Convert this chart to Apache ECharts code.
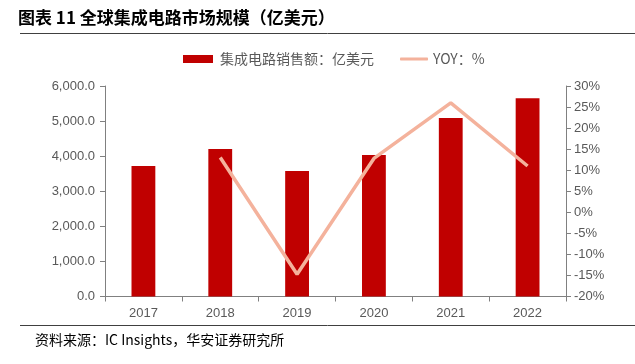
<!DOCTYPE html>
<html>
<head>
<meta charset="utf-8">
<script src="https://cdn.jsdelivr.net/npm/echarts@6/dist/echarts.min.js"></script>
<style>
  html, body { margin: 0; padding: 0; background: #fff; }
  #chart { width: 635px; height: 364px; }
</style>
</head>
<body>
<div id="chart"></div>
<script>
var years = ['2017', '2018', '2019', '2020', '2021', '2022'];
var sales = [3720, 4204, 3577, 4033, 5088, 5649];
var yoy = [null, 13.0, -14.7, 12.8, 26.0, 11.0];

var fontCn = '"Noto Sans CJK SC", sans-serif';
var fontEn = '"Liberation Sans", Arial, sans-serif';
var grayText = '#595959';
var axisGray = '#808080';
var lineColor = '#F4B29C';

var chart = echarts.init(document.getElementById('chart'));
chart.setOption({
  animation: false,
  textStyle: { fontFamily: fontEn },
  graphic: [
    {
      type: 'text', left: 18, top: 9,
      style: { text: '图表 11 全球集成电路市场规模（亿美元）', font: 'bold 17px ' + fontCn, fill: '#000' }
    },
    {
      type: 'line', shape: { x1: 20, y1: 33.5, x2: 635, y2: 33.5 },
      style: { stroke: '#404040', lineWidth: 1 }
    },
    {
      type: 'line', shape: { x1: 20, y1: 325.5, x2: 635, y2: 325.5 },
      style: { stroke: '#404040', lineWidth: 1 }
    },
    {
      type: 'text', left: 35, top: 333,
      style: { text: '资料来源：IC Insights，华安证券研究所', font: '14px ' + fontCn, fill: '#000' }
    }
  ],
  legend: [
    {
      top: 47, left: 178,
      itemWidth: 30, itemHeight: 8,
      textStyle: { color: grayText, fontSize: 14, fontFamily: fontCn, padding: [0, 0, 0, 2] },
      data: [{ name: '集成电路销售额：亿美元', icon: 'rect' }]
    },
    {
      top: 47, left: 395,
      itemWidth: 28, itemHeight: 3,
      textStyle: { color: grayText, fontSize: 14, fontFamily: fontCn },
      data: [{ name: 'YOY：%', icon: 'roundRect', itemStyle: { color: lineColor } }]
    }
  ],
  grid: { left: 105, right: 69, top: 86, bottom: 67.5 },
  xAxis: {
    type: 'category',
    data: years,
    boundaryGap: true,
    axisLine: { lineStyle: { color: axisGray } },
    axisTick: { show: true, alignWithLabel: false, length: 5, lineStyle: { color: axisGray } },
    axisLabel: { color: grayText, fontSize: 13, margin: 10 }
  },
  yAxis: [
    {
      type: 'value', min: 0, max: 6000, interval: 1000,
      axisLine: { show: true, lineStyle: { color: axisGray } },
      axisTick: { show: true, length: 5, lineStyle: { color: axisGray } },
      splitLine: { show: false },
      axisLabel: {
        color: grayText, fontSize: 13, margin: 10,
        formatter: function (v) { return v.toLocaleString('en-US', { minimumFractionDigits: 1, maximumFractionDigits: 1 }); }
      }
    },
    {
      type: 'value', min: -20, max: 30, interval: 5,
      axisLine: { show: true, lineStyle: { color: axisGray } },
      axisTick: { show: true, length: 5, lineStyle: { color: axisGray } },
      splitLine: { show: false },
      axisLabel: { color: grayText, fontSize: 13, margin: 8, formatter: '{value}%' }
    }
  ],
  series: [
    {
      name: '集成电路销售额：亿美元',
      type: 'bar',
      data: sales,
      barWidth: '31%',
      itemStyle: { color: '#C00000' }
    },
    {
      name: 'YOY：%',
      type: 'line',
      yAxisIndex: 1,
      data: yoy,
      symbol: 'none',
      lineStyle: { color: lineColor, width: 3.5 },
      itemStyle: { color: lineColor }
    }
  ]
});
</script>
</body>
</html>
